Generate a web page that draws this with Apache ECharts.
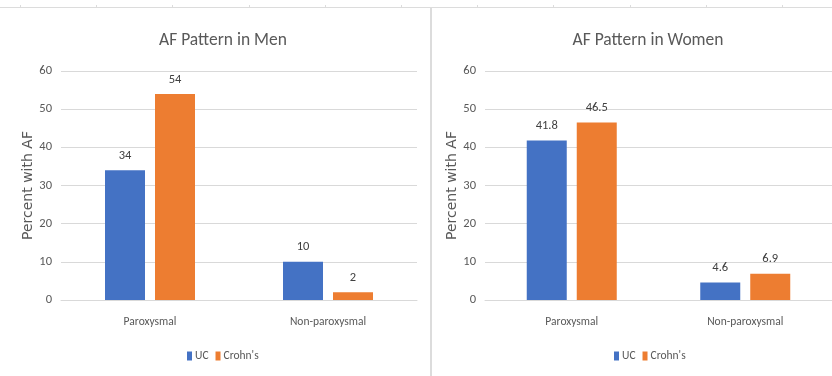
<!DOCTYPE html>
<html>
<head>
<meta charset="utf-8">
<script src="https://cdn.jsdelivr.net/npm/echarts@6/dist/echarts.min.js"></script>
<style>
  html, body { margin: 0; padding: 0; background: #fff; }
  #chart { width: 832px; height: 376px; }
</style>
</head>
<body>
<div id="chart"></div>
<script>
// AF pattern by IBD type, split by sex
const categories = ['Paroxysmal', 'Non-paroxysmal'];
const seriesNames = ['UC', "Crohn's"];
const menUC = [34, 10];
const menCrohns = [54, 2];
const womenUC = [41.8, 4.6];
const womenCrohns = [46.5, 6.9];
const yTicks = { min: 0, max: 60, interval: 10 };
const titles = ['AF Pattern in Men', 'AF Pattern in Women'];
const yAxisTitle = 'Percent with AF';

// Prefer a narrow, Calibri-like face when one is installed
function hasFont(name) {
  const ctx = document.createElement('canvas').getContext('2d');
  const sample = 'AF Pattern in Men 0123456789';
  ctx.font = '20px monospace';
  const a = ctx.measureText(sample).width;
  ctx.font = '20px "' + name + '", monospace';
  const b = ctx.measureText(sample).width;
  ctx.font = '20px serif';
  const c = ctx.measureText(sample).width;
  ctx.font = '20px "' + name + '", serif';
  const d = ctx.measureText(sample).width;
  return a !== b || c !== d;
}
const candidates = [
  { name: 'Carlito', scale: 1 },
  { name: 'Liberation Sans Narrow', scale: 1.02 },
  { name: 'Roboto Condensed', scale: 0.98 },
  { name: 'DejaVu Sans Condensed', scale: 0.85 },
  { name: 'Liberation Sans', scale: 0.86 }
];
const picked = candidates.find(c => hasFont(c.name)) || candidates[candidates.length - 1];
const FONT = '"' + picked.name + '", sans-serif';
const fs = v => Math.round(v * picked.scale * 10) / 10;

const TEXT = '#595959';
const GRID_LINE = '#d9d9d9';
const COLORS = ['#4472C4', '#ED7D31'];

const chart = echarts.init(document.getElementById('chart'), null, { renderer: 'canvas' });

const panels = [
  { left: 61, titleX: 218, legendX: 187, uc: menUC, cd: menCrohns },
  { left: 485, titleX: 643, legendX: 614, uc: womenUC, cd: womenCrohns }
];

function makeBar(name, data, idx, color) {
  return {
    name: name,
    type: 'bar',
    xAxisIndex: idx,
    yAxisIndex: idx,
    data: data,
    barWidth: 40,
    barGap: '25%',
    itemStyle: { color: color },
    label: {
      show: true,
      position: 'top',
      distance: 8,
      color: '#404040',
      fontFamily: FONT,
      fontSize: fs(12.5)
    },
    emphasis: { disabled: true }
  };
}

// thin frame decoration along the top edge and the divider between panels
const frame = [
  { type: 'line', shape: { x1: 0, y1: 7.5, x2: 832, y2: 7.5 }, style: { stroke: '#dcdcdc', lineWidth: 1 }, silent: true },
  { type: 'rect', shape: { x: 430, y: 7, width: 2, height: 369 }, style: { fill: '#dcdcdc' }, silent: true }
];
for (let x = 20; x < 832; x += 76.2) {
  frame.push({ type: 'line', shape: { x1: Math.round(x) + 0.5, y1: 5, x2: Math.round(x) + 0.5, y2: 7 }, style: { stroke: '#dcdcdc', lineWidth: 1 }, silent: true });
}

const option = {
  animation: false,
  backgroundColor: '#fff',
  title: panels.map((p, i) => ({
    text: titles[i],
    left: p.titleX,
    top: 27,
    textAlign: 'center',
    textStyle: { fontFamily: FONT, fontSize: fs(17.5), fontWeight: 'normal', color: TEXT }
  })),
  legend: panels.map((p, i) => ({
    data: seriesNames,
    left: p.legendX,
    top: 350,
    padding: 0,
    icon: 'rect',
    itemWidth: 5,
    itemHeight: 9,
    itemGap: 7,
    textStyle: { fontFamily: FONT, fontSize: fs(11.5), color: TEXT, padding: [0, 0, 0, -2] }
  })),
  grid: panels.map(p => ({ left: p.left, top: 71, width: 356, height: 229, containLabel: false })),
  xAxis: panels.map((p, i) => ({
    type: 'category',
    gridIndex: i,
    data: categories,
    axisLine: { show: true, lineStyle: { color: GRID_LINE, width: 1 } },
    axisTick: { show: false },
    axisLabel: { margin: 16, color: TEXT, fontFamily: FONT, fontSize: fs(11.5) }
  })),
  yAxis: panels.map((p, i) => ({
    type: 'value',
    gridIndex: i,
    min: yTicks.min,
    max: yTicks.max,
    interval: yTicks.interval,
    name: yAxisTitle,
    nameLocation: 'middle',
    nameGap: 26,
    nameRotate: 90,
    nameTextStyle: { fontFamily: '"DejaVu Sans", sans-serif', fontSize: 14, color: TEXT },
    axisLine: { show: false },
    axisTick: { show: false },
    axisLabel: { margin: 9, color: TEXT, fontFamily: FONT, fontSize: fs(12.5) },
    splitLine: { show: true, lineStyle: { color: GRID_LINE, width: 1 } }
  })),
  series: [
    makeBar(seriesNames[0], panels[0].uc, 0, COLORS[0]),
    makeBar(seriesNames[1], panels[0].cd, 0, COLORS[1]),
    makeBar(seriesNames[0], panels[1].uc, 1, COLORS[0]),
    makeBar(seriesNames[1], panels[1].cd, 1, COLORS[1])
  ],
  graphic: { elements: frame }
};

chart.setOption(option);
</script>
</body>
</html>
